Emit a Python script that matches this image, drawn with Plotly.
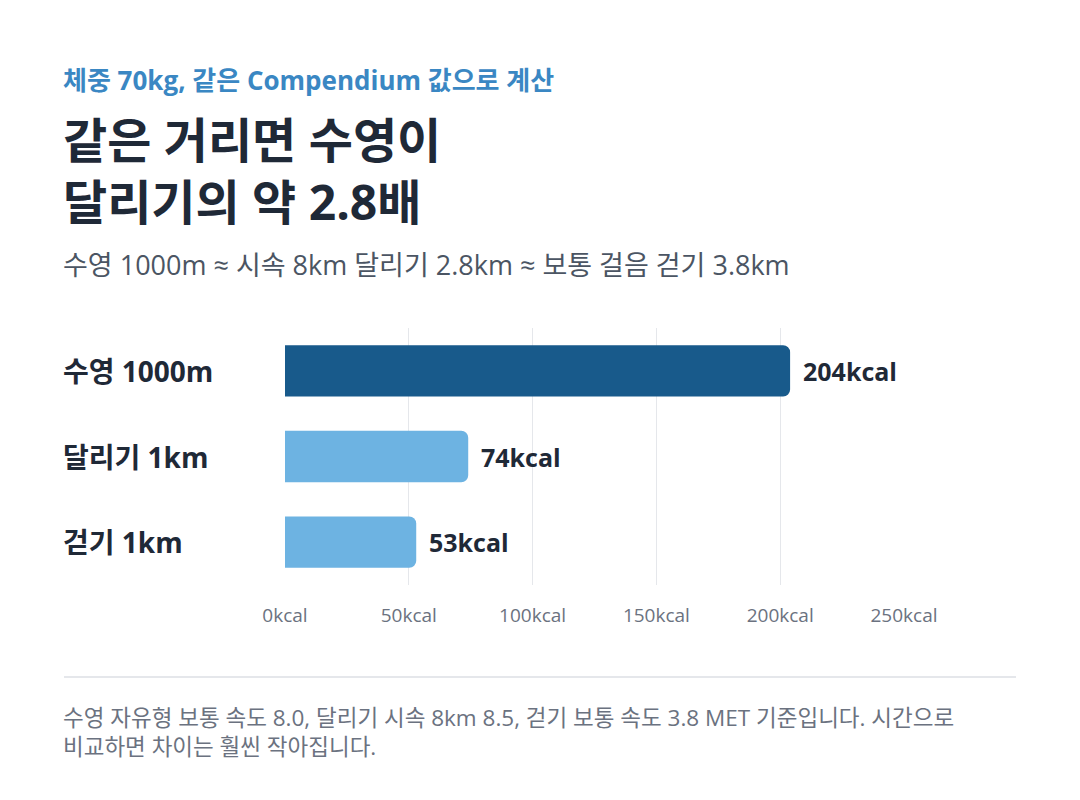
import plotly.graph_objects as go

# Data
categories = ['수영 1000m', '달리기 1km', '걷기 1km']
kcal = [204, 74, 53]
bar_colors = ['#185a8b', '#6db3e2', '#6db3e2']
tick_vals = [0, 50, 100, 150, 200, 250]
tick_text = ['0kcal', '50kcal', '100kcal', '150kcal', '200kcal', '250kcal']

FONT = 'Open Sans, Noto Sans CJK KR'
W, H = 1080, 800
OFF = 8  # page offset of the figure in the browser
L, R, T, B = 277, 184, 320, 223
plot_w = W - L - R
plot_h = H - T - B


def px_x(x):
    return (x - OFF - L) / plot_w


def px_y(y):
    return (H - B - (y - OFF)) / plot_h


def text_note(x, y, text, size, color, xref='paper', yref='paper'):
    fig.add_annotation(
        x=x, y=y, xref=xref, yref=yref, text=text, showarrow=False,
        xanchor='left', yanchor='middle', align='left',
        font=dict(family=FONT, size=size, color=color),
    )


fig = go.Figure()

fig.add_trace(go.Bar(
    y=categories,
    x=kcal,
    orientation='h',
    marker=dict(color=bar_colors, line=dict(width=0)),
    width=0.6,
    hoverinfo='skip',
))

# value labels to the right of each bar
for cat, v in zip(categories, kcal):
    fig.add_annotation(
        x=v, y=cat, xref='x', yref='y',
        text=f'<b>{v}kcal</b>', showarrow=False,
        xanchor='left', yanchor='middle', xshift=11,
        font=dict(family=FONT, size=25, color='#1f2937'),
    )

# category labels, left aligned
for cat in categories:
    text_note(px_x(61), cat, f'<b>{cat}</b>', 28, '#1f2937', yref='y')

# header texts
text_note(px_x(61), px_y(80), '<b>체중 70kg, 같은 Compendium 값으로 계산</b>', 26, '#3a87c3')
text_note(px_x(61), px_y(170), '<b>같은 거리면 수영이<br>달리기의 약 2.8배</b>', 48, '#1f2937')
text_note(px_x(61), px_y(264),
          '수영 1000m ≈ 시속 8km 달리기 2.8km ≈ 보통 걸음 걷기 3.8km', 27, '#4b5563')

# footer
fig.add_shape(
    type='line', xref='paper', yref='paper',
    x0=px_x(64), x1=px_x(1016), y0=px_y(677), y1=px_y(677),
    line=dict(color='#e5e7eb', width=2),
)
text_note(px_x(61), px_y(732),
          '수영 자유형 보통 속도 8.0, 달리기 시속 8km 8.5, 걷기 보통 속도 3.8 MET 기준입니다. 시간으로<br>'
          '비교하면 차이는 훨씬 작아집니다.',
          22.5, '#6b7280')

fig.update_layout(
    width=W, height=H,
    margin=dict(l=L, r=R, t=T, b=B),
    paper_bgcolor='white', plot_bgcolor='white',
    showlegend=False,
    barcornerradius=7,
    font=dict(family=FONT),
    xaxis=dict(
        range=[0, 250], tickvals=tick_vals, ticktext=tick_text,
        showgrid=True, gridcolor='#e5e7eb', gridwidth=1,
        zeroline=False, showline=False,
        ticks='', ticklabelstandoff=17,
        tickfont=dict(family=FONT, size=19, color='#6b7280'),
        fixedrange=True,
    ),
    yaxis=dict(
        autorange='reversed', showticklabels=False,
        showgrid=False, zeroline=False, showline=False,
        fixedrange=True,
    ),
)

fig.write_html('out.html')
